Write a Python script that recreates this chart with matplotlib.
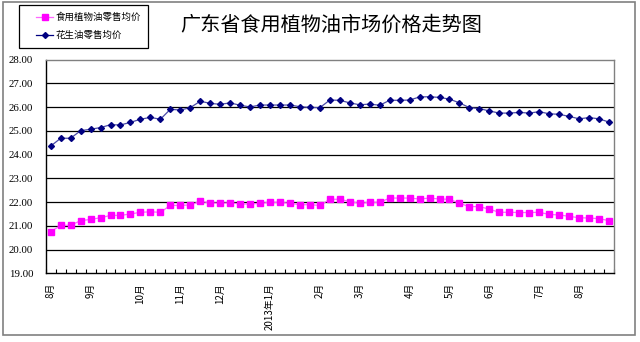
import matplotlib
matplotlib.use("Agg")
import matplotlib.pyplot as plt
from matplotlib.patches import Rectangle
from matplotlib.lines import Line2D

plt.rcParams['font.family'] = ['Noto Sans CJK SC', 'DejaVu Sans']

title = "广东省食用植物油市场价格走势图"
series_names = ["食用植物油零售均价", "花生油零售均价"]

edible_oil = [20.75, 21.02, 21.02, 21.22, 21.27, 21.34, 21.44, 21.44, 21.50, 21.57,
              21.59, 21.57, 21.86, 21.86, 21.88, 22.03, 21.97, 21.95, 21.97, 21.92,
              21.92, 21.95, 21.99, 21.99, 21.95, 21.89, 21.89, 21.86, 22.12, 22.12,
              22.02, 21.95, 21.99, 21.99, 22.17, 22.17, 22.17, 22.13, 22.17, 22.13,
              22.12, 21.95, 21.81, 21.81, 21.70, 21.57, 21.57, 21.56, 21.56, 21.57,
              21.48, 21.46, 21.40, 21.34, 21.33, 21.30, 21.22]

peanut_oil = [24.36, 24.69, 24.69, 25.01, 25.07, 25.14, 25.26, 25.25, 25.36, 25.49,
              25.57, 25.49, 25.91, 25.88, 25.98, 26.25, 26.16, 26.12, 26.18, 26.08,
              26.01, 26.09, 26.09, 26.09, 26.09, 26.02, 25.99, 25.98, 26.30, 26.29,
              26.18, 26.10, 26.13, 26.08, 26.29, 26.29, 26.30, 26.43, 26.44, 26.41,
              26.34, 26.18, 25.98, 25.94, 25.84, 25.75, 25.75, 25.78, 25.75, 25.81,
              25.72, 25.70, 25.61, 25.51, 25.56, 25.51, 25.37]

month_idx = [0, 4, 9, 13, 17, 22, 27, 31, 36, 40, 44, 49, 53]
month_labels = ['8月', '9月', '10月', '11月', '12月', '2013年1月', '2月', '3月',
                '4月', '5月', '6月', '7月', '8月']

y_ticks = [19, 20, 21, 22, 23, 24, 25, 26, 27, 28]

W, H = 640, 342
fig = plt.figure(figsize=(W/100, H/100), dpi=100)
ax = fig.add_axes([45.7/W, 1-273.3/H, (614-45.7)/W, (273.3-59.7)/H])

x = list(range(len(edible_oil)))
ax.plot(x, peanut_oil, color='#4a4aa8', lw=0.9, marker='D', markersize=3.0,
        markerfacecolor='#000080', markeredgecolor='#000080', zorder=3)
ax.plot(x, edible_oil, color='#ff66ff', lw=0.9, marker='s', markersize=4.2,
        markerfacecolor='#ff00ff', markeredgecolor='#ff00ff', zorder=3)

ax.set_xlim(-0.38, len(x) - 1 + 0.42)
ax.set_ylim(19, 28)
ax.set_yticks(y_ticks)
ax.set_yticklabels([f"{v:.2f}" for v in y_ticks], family='Liberation Serif', fontsize=7.8)
for v in y_ticks[1:-1]:
    ax.axhline(v, color='black', lw=0.9, zorder=1)

ax.set_xticks(month_idx)
ax.set_xticklabels(month_labels, rotation=90, fontsize=7)
ax.set_xticks([i - 0.5 for i in range(len(x) + 1)], minor=True)
ax.tick_params(axis='x', which='major', length=0, pad=7)
ax.tick_params(axis='x', which='minor', direction='in', length=3, width=0.8)
ax.tick_params(axis='y', length=0, pad=9)

for s in ['top', 'right']:
    ax.spines[s].set_color('#808080')
    ax.spines[s].set_linewidth(1.0)
for s in ['left', 'bottom']:
    ax.spines[s].set_color('black')
    ax.spines[s].set_linewidth(1.0)

fig.text(331/W, 1-25/H, title, ha='center', va='center', fontsize=14.5)

# figure border
fig.patches.append(Rectangle((2.5/W, 1-335/H), (635-2.5)/W, (335-1.5)/H,
                             transform=fig.transFigure, fill=False,
                             edgecolor='#808080', lw=1.2))
# legend box
fig.patches.append(Rectangle((19/W, 1-48/H), (148-19)/W, (48-5)/H,
                             transform=fig.transFigure, fill=False,
                             edgecolor='black', lw=0.9))
handles = [
    Line2D([], [], color='#ff66ff', lw=0.9, marker='s', markersize=4.2,
           markerfacecolor='#ff00ff', markeredgecolor='#ff00ff'),
    Line2D([], [], color='#000080', lw=0.9, marker='D', markersize=3.0,
           markerfacecolor='#000080', markeredgecolor='#000080'),
]
fig.legend(handles, series_names, loc='upper left', bbox_to_anchor=(36/W, 1-12.5/H),
           frameon=False, fontsize=6.8, handlelength=1.8, handletextpad=0.3,
           labelspacing=0.95, borderpad=0, borderaxespad=0)

fig.savefig("out.png", dpi=100)
